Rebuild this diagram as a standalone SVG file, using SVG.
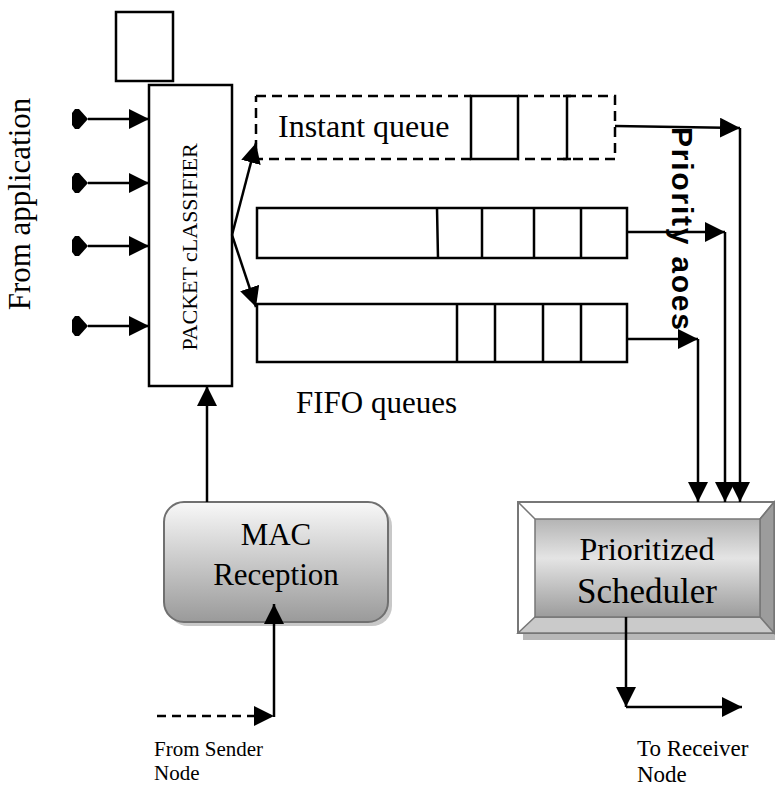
<svg xmlns="http://www.w3.org/2000/svg" width="775" height="786" viewBox="0 0 775 786">
<style>
.ln{fill:none;stroke:#000;stroke-width:2.5}
.q{fill:#fff;stroke:#000;stroke-width:2.5}
.t{font-family:"Liberation Serif","Times New Roman",serif;fill:#000}
</style>
<defs>
<marker id="ah" viewBox="0 0 20 20" refX="20" refY="10" markerWidth="20" markerHeight="20" markerUnits="userSpaceOnUse" orient="auto"><path d="M0,0 L20,10 L0,20 z" fill="#000"/></marker>
<marker id="tl" viewBox="0 0 16 20" refX="16" refY="10" markerWidth="16" markerHeight="20" markerUnits="userSpaceOnUse" orient="auto"><path d="M0,4 L3,0 L7,0 L16,10 L7,20 L3,20 L0,16 z" fill="#000"/></marker>
<linearGradient id="gMac" x1="0" y1="0" x2="0" y2="1"><stop offset="0" stop-color="#f8f8f8"/><stop offset="1" stop-color="#9a9a9a"/></linearGradient>
<linearGradient id="gSch" x1="0" y1="0" x2="0" y2="1"><stop offset="0" stop-color="#b4b4b4"/><stop offset="0.4" stop-color="#e4e4e4"/><stop offset="1" stop-color="#9c9c9c"/></linearGradient>
</defs>

<text class="t" font-size="31" text-anchor="middle" transform="translate(30,204) rotate(-90)">From application</text>

<g id="topbox"><rect x="116" y="12" width="57" height="69" class="q"/></g>

<g id="classifier">
<rect x="149" y="85" width="83" height="301" class="q"/>
<text class="t" font-size="22" text-anchor="middle" transform="translate(197,247) rotate(-90)">PACKET cLASSIFIER</text>
</g>

<g id="instant">
<path d="M256,96 H471 M518,96 H615 V159 H518 M471,159 H256 V96" fill="none" stroke="#000" stroke-width="2.5" stroke-dasharray="10,6"/>
<rect x="471" y="96" width="47" height="63" fill="none" stroke="#000" stroke-width="2.5"/>
<path d="M567,96 V159 M563,96 H571 M563,159 H571" class="ln"/>
<text class="t" x="278" y="137" font-size="32">Instant queue</text>
</g>

<g id="fifo1">
<rect x="257" y="208" width="370" height="50" class="q"/>
<path d="M437,208 L438,258 M482,208 V258 M534,208 V258 M581,208 V258" class="ln"/>
</g>
<g id="fifo2">
<rect x="257" y="304" width="370" height="58" class="q"/>
<path d="M457,304 V362 M495,304 V362 M543,304 V362 M581,304 V362" class="ln"/>
</g>
<text class="t" x="296" y="413" font-size="31">FIFO queues</text>

<text font-family="'Liberation Sans',Arial,sans-serif" font-weight="bold" font-size="30" transform="translate(672,127) rotate(90)" textLength="203" lengthAdjust="spacing">Priority aoes</text>

<g id="mac">
<rect x="168" y="506" width="224" height="120" rx="20" fill="#b0b0b0" opacity="0.7"/>
<rect x="164" y="502" width="224" height="120" rx="20" fill="url(#gMac)" stroke="#707070" stroke-width="2"/>
<text class="t" font-size="31" text-anchor="middle" x="276" y="545">MAC</text>
<text class="t" font-size="31" text-anchor="middle" x="276" y="585">Reception</text>
</g>

<g id="scheduler">
<rect x="523" y="507" width="256" height="133" fill="#b8b8b8"/>
<rect x="518" y="502" width="256" height="131" fill="#fff" stroke="#777" stroke-width="2"/>
<path d="M774,502 L760,519 V617 L774,633 z" fill="#9c9c9c" stroke="#777" stroke-width="1.5"/>
<path d="M518,633 L535,617 H760 L774,633 z" fill="#cacaca" stroke="#777" stroke-width="1.5"/>
<path d="M518,502 L535,519 M774,502 L760,519" stroke="#777" stroke-width="1.5"/>
<rect x="535" y="519" width="225" height="98" fill="url(#gSch)" stroke="#777" stroke-width="1.5"/>
<text class="t" font-size="32" text-anchor="middle" x="647" y="560">Prioritized</text>
<text class="t" font-size="35" text-anchor="middle" x="647" y="603">Scheduler</text>
</g>

<g id="connectors">
<path d="M88,119 H149" class="ln" marker-start="url(#tl)" marker-end="url(#ah)"/>
<path d="M88,183 H149" class="ln" marker-start="url(#tl)" marker-end="url(#ah)"/>
<path d="M88,246 H149" class="ln" marker-start="url(#tl)" marker-end="url(#ah)"/>
<path d="M88,326 H149" class="ln" marker-start="url(#tl)" marker-end="url(#ah)"/>
<path d="M232,235 L256,143" class="ln" marker-end="url(#ah)"/>
<path d="M232,235 L256,307" class="ln" marker-end="url(#ah)"/>
<path d="M615,126 L740,128" class="ln" marker-end="url(#ah)"/>
<path d="M740,128 V502" class="ln" marker-end="url(#ah)"/>
<path d="M627,232 H725" class="ln" marker-end="url(#ah)"/>
<path d="M725,232 V502" class="ln" marker-end="url(#ah)"/>
<path d="M627,339 H698" class="ln" marker-end="url(#ah)"/>
<path d="M698,339 V502" class="ln" marker-end="url(#ah)"/>
<path d="M207,502 V386" class="ln" marker-end="url(#ah)"/>
<path d="M157,716 H274" class="ln" stroke-dasharray="9,6" marker-end="url(#ah)"/>
<path d="M274,717 V604" class="ln" marker-end="url(#ah)"/>
<path d="M626,617 V707" class="ln" marker-end="url(#ah)"/>
<path d="M626,707 H742" class="ln" marker-end="url(#ah)"/>
</g>

<text class="t" font-size="21" x="154" y="756">From Sender</text>
<text class="t" font-size="21" x="154" y="780">Node</text>
<text class="t" font-size="23" x="637" y="756">To Receiver</text>
<text class="t" font-size="23" x="637" y="782">Node</text>
</svg>
